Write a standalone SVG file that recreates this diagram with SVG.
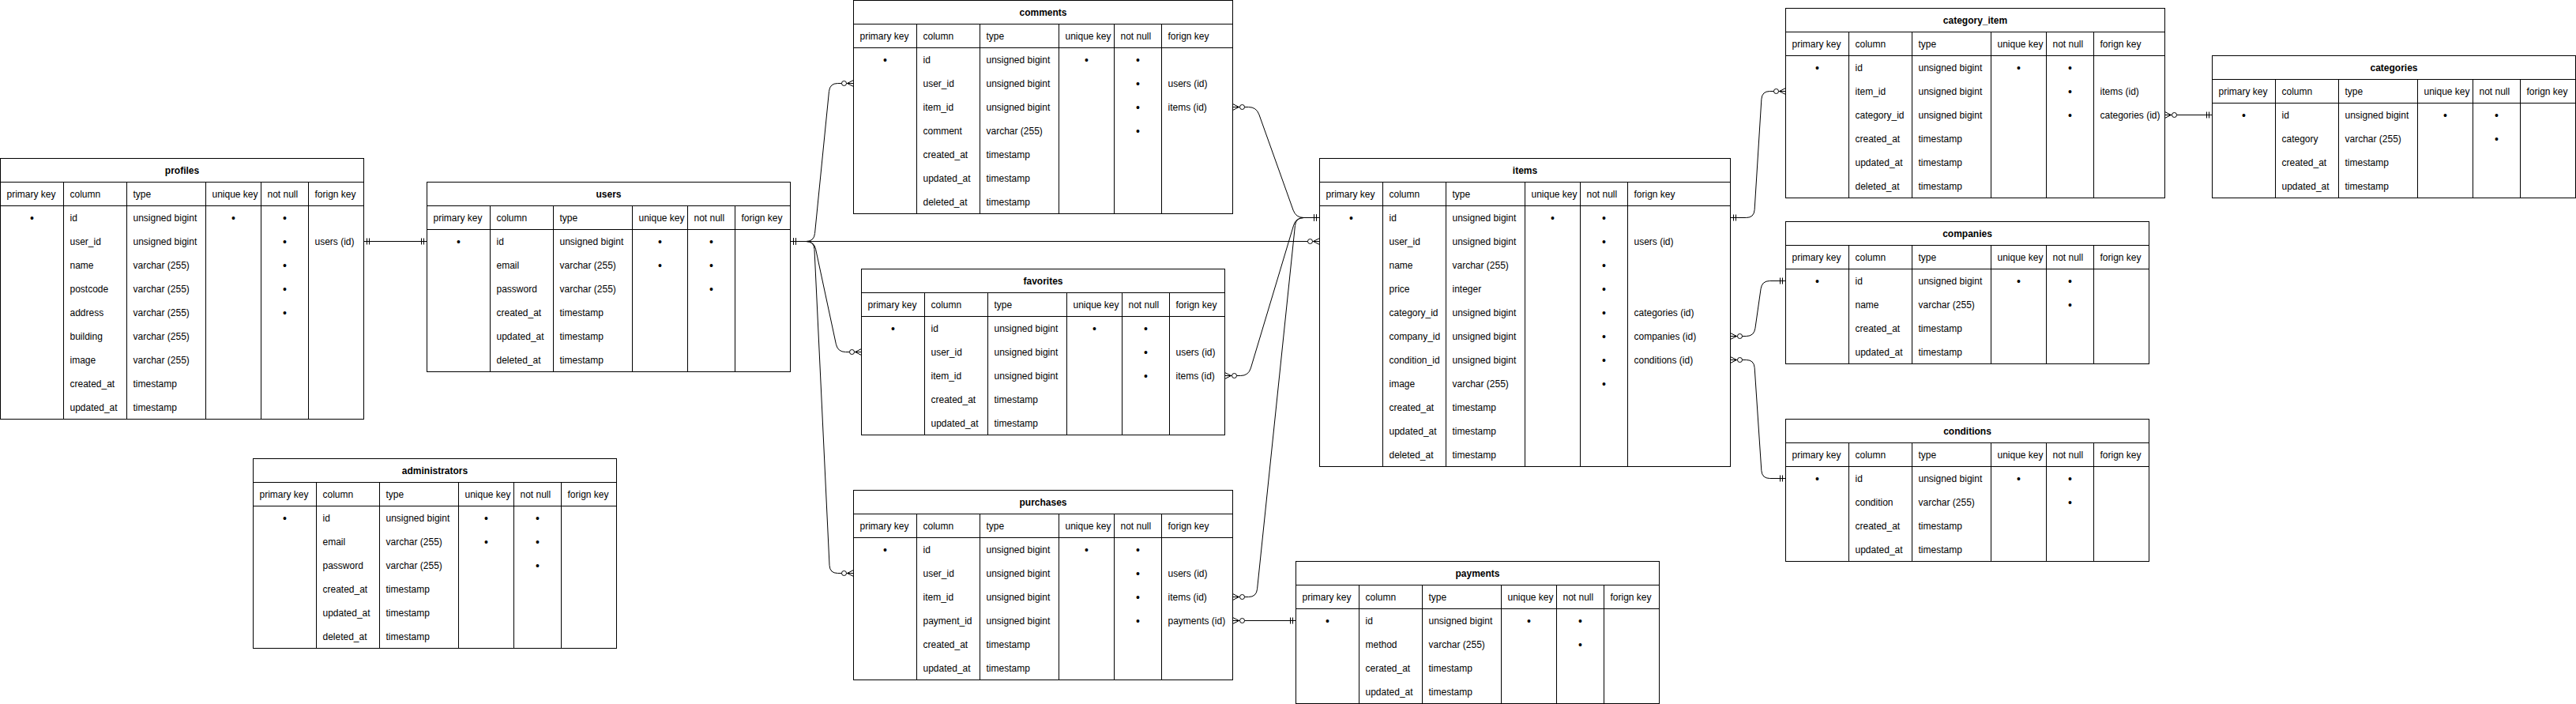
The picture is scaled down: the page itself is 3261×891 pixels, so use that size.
<svg xmlns="http://www.w3.org/2000/svg" width="3261" height="891" viewBox="0 0 3261 891">
<style>
text{font-family:"Liberation Sans",Arial,Helvetica,sans-serif;font-size:12px;fill:#000}
.h{font-weight:bold;text-anchor:middle}
.c{text-anchor:middle;font-size:14px}
.tb{fill:#fff;stroke:#000;stroke-width:1}
.ln{fill:none;stroke:#000;stroke-width:1}
.e{fill:none;stroke:#000;stroke-width:1}
.one{marker-start:url(#mand);marker-end:url(#many)}
.rev{marker-start:url(#many);marker-end:url(#mand)}
.both{marker-start:url(#mand);marker-end:url(#mand)}
</style>
<defs>
<marker id="mand" viewBox="-20 -10 24 20" refX="0" refY="0" markerWidth="24" markerHeight="20" markerUnits="userSpaceOnUse" orient="auto-start-reverse">
<path d="M-4,-4V4M-7,-4V4" fill="none" stroke="#000" stroke-width="1"/>
</marker>
<marker id="many" viewBox="-20 -10 24 20" refX="0" refY="0" markerWidth="24" markerHeight="20" markerUnits="userSpaceOnUse" orient="auto-start-reverse">
<path d="M0,-4L-8,0L0,4M0,0H-8" fill="none" stroke="#000" stroke-width="1"/>
<circle cx="-12" cy="0" r="3" fill="#fff" stroke="#000" stroke-width="1"/>
</marker>
</defs>
<rect x="0" y="0" width="3261" height="891" fill="#fff"/>
<g transform="translate(0.5,0.5)">

<g id="profiles" transform="translate(0,200)">
<rect class="tb" width="460" height="330"/>
<path class="ln" d="M0,30H460M0,60H460M80,30V330M160,30V330M260,30V330M330,30V330M390,30V330"/>
<text class="h" x="230" y="19">profiles</text>
<text x="8" y="49">primary key</text><text x="88" y="49">column</text><text x="168" y="49">type</text><text x="268" y="49">unique key</text><text x="338" y="49">not null</text><text x="398" y="49">forign key</text>
<text class="c" x="40" y="80">•</text><text x="88" y="79">id</text><text x="168" y="79">unsigned bigint</text><text class="c" x="295" y="80">•</text><text class="c" x="360" y="80">•</text>
<text x="88" y="109">user_id</text><text x="168" y="109">unsigned bigint</text><text class="c" x="360" y="110">•</text><text x="398" y="109">users (id)</text>
<text x="88" y="139">name</text><text x="168" y="139">varchar (255)</text><text class="c" x="360" y="140">•</text>
<text x="88" y="169">postcode</text><text x="168" y="169">varchar (255)</text><text class="c" x="360" y="170">•</text>
<text x="88" y="199">address</text><text x="168" y="199">varchar (255)</text><text class="c" x="360" y="200">•</text>
<text x="88" y="229">building</text><text x="168" y="229">varchar (255)</text>
<text x="88" y="259">image</text><text x="168" y="259">varchar (255)</text>
<text x="88" y="289">created_at</text><text x="168" y="289">timestamp</text>
<text x="88" y="319">updated_at</text><text x="168" y="319">timestamp</text>
</g>

<g id="users" transform="translate(540,230)">
<rect class="tb" width="460" height="240"/>
<path class="ln" d="M0,30H460M0,60H460M80,30V240M160,30V240M260,30V240M330,30V240M390,30V240"/>
<text class="h" x="230" y="19">users</text>
<text x="8" y="49">primary key</text><text x="88" y="49">column</text><text x="168" y="49">type</text><text x="268" y="49">unique key</text><text x="338" y="49">not null</text><text x="398" y="49">forign key</text>
<text class="c" x="40" y="80">•</text><text x="88" y="79">id</text><text x="168" y="79">unsigned bigint</text><text class="c" x="295" y="80">•</text><text class="c" x="360" y="80">•</text>
<text x="88" y="109">email</text><text x="168" y="109">varchar (255)</text><text class="c" x="295" y="110">•</text><text class="c" x="360" y="110">•</text>
<text x="88" y="139">password</text><text x="168" y="139">varchar (255)</text><text class="c" x="360" y="140">•</text>
<text x="88" y="169">created_at</text><text x="168" y="169">timestamp</text>
<text x="88" y="199">updated_at</text><text x="168" y="199">timestamp</text>
<text x="88" y="229">deleted_at</text><text x="168" y="229">timestamp</text>
</g>

<g id="administrators" transform="translate(320,580)">
<rect class="tb" width="460" height="240"/>
<path class="ln" d="M0,30H460M0,60H460M80,30V240M160,30V240M260,30V240M330,30V240M390,30V240"/>
<text class="h" x="230" y="19">administrators</text>
<text x="8" y="49">primary key</text><text x="88" y="49">column</text><text x="168" y="49">type</text><text x="268" y="49">unique key</text><text x="338" y="49">not null</text><text x="398" y="49">forign key</text>
<text class="c" x="40" y="80">•</text><text x="88" y="79">id</text><text x="168" y="79">unsigned bigint</text><text class="c" x="295" y="80">•</text><text class="c" x="360" y="80">•</text>
<text x="88" y="109">email</text><text x="168" y="109">varchar (255)</text><text class="c" x="295" y="110">•</text><text class="c" x="360" y="110">•</text>
<text x="88" y="139">password</text><text x="168" y="139">varchar (255)</text><text class="c" x="360" y="140">•</text>
<text x="88" y="169">created_at</text><text x="168" y="169">timestamp</text>
<text x="88" y="199">updated_at</text><text x="168" y="199">timestamp</text>
<text x="88" y="229">deleted_at</text><text x="168" y="229">timestamp</text>
</g>

<g id="comments" transform="translate(1080,0)">
<rect class="tb" width="480" height="270"/>
<path class="ln" d="M0,30H480M0,60H480M80,30V270M160,30V270M260,30V270M330,30V270M390,30V270"/>
<text class="h" x="240" y="19">comments</text>
<text x="8" y="49">primary key</text><text x="88" y="49">column</text><text x="168" y="49">type</text><text x="268" y="49">unique key</text><text x="338" y="49">not null</text><text x="398" y="49">forign key</text>
<text class="c" x="40" y="80">•</text><text x="88" y="79">id</text><text x="168" y="79">unsigned bigint</text><text class="c" x="295" y="80">•</text><text class="c" x="360" y="80">•</text>
<text x="88" y="109">user_id</text><text x="168" y="109">unsigned bigint</text><text class="c" x="360" y="110">•</text><text x="398" y="109">users (id)</text>
<text x="88" y="139">item_id</text><text x="168" y="139">unsigned bigint</text><text class="c" x="360" y="140">•</text><text x="398" y="139">items (id)</text>
<text x="88" y="169">comment</text><text x="168" y="169">varchar (255)</text><text class="c" x="360" y="170">•</text>
<text x="88" y="199">created_at</text><text x="168" y="199">timestamp</text>
<text x="88" y="229">updated_at</text><text x="168" y="229">timestamp</text>
<text x="88" y="259">deleted_at</text><text x="168" y="259">timestamp</text>
</g>

<g id="favorites" transform="translate(1090,340)">
<rect class="tb" width="460" height="210"/>
<path class="ln" d="M0,30H460M0,60H460M80,30V210M160,30V210M260,30V210M330,30V210M390,30V210"/>
<text class="h" x="230" y="19">favorites</text>
<text x="8" y="49">primary key</text><text x="88" y="49">column</text><text x="168" y="49">type</text><text x="268" y="49">unique key</text><text x="338" y="49">not null</text><text x="398" y="49">forign key</text>
<text class="c" x="40" y="80">•</text><text x="88" y="79">id</text><text x="168" y="79">unsigned bigint</text><text class="c" x="295" y="80">•</text><text class="c" x="360" y="80">•</text>
<text x="88" y="109">user_id</text><text x="168" y="109">unsigned bigint</text><text class="c" x="360" y="110">•</text><text x="398" y="109">users (id)</text>
<text x="88" y="139">item_id</text><text x="168" y="139">unsigned bigint</text><text class="c" x="360" y="140">•</text><text x="398" y="139">items (id)</text>
<text x="88" y="169">created_at</text><text x="168" y="169">timestamp</text>
<text x="88" y="199">updated_at</text><text x="168" y="199">timestamp</text>
</g>

<g id="purchases" transform="translate(1080,620)">
<rect class="tb" width="480" height="240"/>
<path class="ln" d="M0,30H480M0,60H480M80,30V240M160,30V240M260,30V240M330,30V240M390,30V240"/>
<text class="h" x="240" y="19">purchases</text>
<text x="8" y="49">primary key</text><text x="88" y="49">column</text><text x="168" y="49">type</text><text x="268" y="49">unique key</text><text x="338" y="49">not null</text><text x="398" y="49">forign key</text>
<text class="c" x="40" y="80">•</text><text x="88" y="79">id</text><text x="168" y="79">unsigned bigint</text><text class="c" x="295" y="80">•</text><text class="c" x="360" y="80">•</text>
<text x="88" y="109">user_id</text><text x="168" y="109">unsigned bigint</text><text class="c" x="360" y="110">•</text><text x="398" y="109">users (id)</text>
<text x="88" y="139">item_id</text><text x="168" y="139">unsigned bigint</text><text class="c" x="360" y="140">•</text><text x="398" y="139">items (id)</text>
<text x="88" y="169">payment_id</text><text x="168" y="169">unsigned bigint</text><text class="c" x="360" y="170">•</text><text x="398" y="169">payments (id)</text>
<text x="88" y="199">created_at</text><text x="168" y="199">timestamp</text>
<text x="88" y="229">updated_at</text><text x="168" y="229">timestamp</text>
</g>

<g id="payments" transform="translate(1640,710)">
<rect class="tb" width="460" height="180"/>
<path class="ln" d="M0,30H460M0,60H460M80,30V180M160,30V180M260,30V180M330,30V180M390,30V180"/>
<text class="h" x="230" y="19">payments</text>
<text x="8" y="49">primary key</text><text x="88" y="49">column</text><text x="168" y="49">type</text><text x="268" y="49">unique key</text><text x="338" y="49">not null</text><text x="398" y="49">forign key</text>
<text class="c" x="40" y="80">•</text><text x="88" y="79">id</text><text x="168" y="79">unsigned bigint</text><text class="c" x="295" y="80">•</text><text class="c" x="360" y="80">•</text>
<text x="88" y="109">method</text><text x="168" y="109">varchar (255)</text><text class="c" x="360" y="110">•</text>
<text x="88" y="139">cerated_at</text><text x="168" y="139">timestamp</text>
<text x="88" y="169">updated_at</text><text x="168" y="169">timestamp</text>
</g>

<g id="items" transform="translate(1670,200)">
<rect class="tb" width="520" height="390"/>
<path class="ln" d="M0,30H520M0,60H520M80,30V390M160,30V390M260,30V390M330,30V390M390,30V390"/>
<text class="h" x="260" y="19">items</text>
<text x="8" y="49">primary key</text><text x="88" y="49">column</text><text x="168" y="49">type</text><text x="268" y="49">unique key</text><text x="338" y="49">not null</text><text x="398" y="49">forign key</text>
<text class="c" x="40" y="80">•</text><text x="88" y="79">id</text><text x="168" y="79">unsigned bigint</text><text class="c" x="295" y="80">•</text><text class="c" x="360" y="80">•</text>
<text x="88" y="109">user_id</text><text x="168" y="109">unsigned bigint</text><text class="c" x="360" y="110">•</text><text x="398" y="109">users (id)</text>
<text x="88" y="139">name</text><text x="168" y="139">varchar (255)</text><text class="c" x="360" y="140">•</text>
<text x="88" y="169">price</text><text x="168" y="169">integer</text><text class="c" x="360" y="170">•</text>
<text x="88" y="199">category_id</text><text x="168" y="199">unsigned bigint</text><text class="c" x="360" y="200">•</text><text x="398" y="199">categories (id)</text>
<text x="88" y="229">company_id</text><text x="168" y="229">unsigned bigint</text><text class="c" x="360" y="230">•</text><text x="398" y="229">companies (id)</text>
<text x="88" y="259">condition_id</text><text x="168" y="259">unsigned bigint</text><text class="c" x="360" y="260">•</text><text x="398" y="259">conditions (id)</text>
<text x="88" y="289">image</text><text x="168" y="289">varchar (255)</text><text class="c" x="360" y="290">•</text>
<text x="88" y="319">created_at</text><text x="168" y="319">timestamp</text>
<text x="88" y="349">updated_at</text><text x="168" y="349">timestamp</text>
<text x="88" y="379">deleted_at</text><text x="168" y="379">timestamp</text>
</g>

<g id="category_item" transform="translate(2260,10)">
<rect class="tb" width="480" height="240"/>
<path class="ln" d="M0,30H480M0,60H480M80,30V240M160,30V240M260,30V240M330,30V240M390,30V240"/>
<text class="h" x="240" y="19">category_item</text>
<text x="8" y="49">primary key</text><text x="88" y="49">column</text><text x="168" y="49">type</text><text x="268" y="49">unique key</text><text x="338" y="49">not null</text><text x="398" y="49">forign key</text>
<text class="c" x="40" y="80">•</text><text x="88" y="79">id</text><text x="168" y="79">unsigned bigint</text><text class="c" x="295" y="80">•</text><text class="c" x="360" y="80">•</text>
<text x="88" y="109">item_id</text><text x="168" y="109">unsigned bigint</text><text class="c" x="360" y="110">•</text><text x="398" y="109">items (id)</text>
<text x="88" y="139">category_id</text><text x="168" y="139">unsigned bigint</text><text class="c" x="360" y="140">•</text><text x="398" y="139">categories (id)</text>
<text x="88" y="169">created_at</text><text x="168" y="169">timestamp</text>
<text x="88" y="199">updated_at</text><text x="168" y="199">timestamp</text>
<text x="88" y="229">deleted_at</text><text x="168" y="229">timestamp</text>
</g>

<g id="categories" transform="translate(2800,70)">
<rect class="tb" width="460" height="180"/>
<path class="ln" d="M0,30H460M0,60H460M80,30V180M160,30V180M260,30V180M330,30V180M390,30V180"/>
<text class="h" x="230" y="19">categories</text>
<text x="8" y="49">primary key</text><text x="88" y="49">column</text><text x="168" y="49">type</text><text x="268" y="49">unique key</text><text x="338" y="49">not null</text><text x="398" y="49">forign key</text>
<text class="c" x="40" y="80">•</text><text x="88" y="79">id</text><text x="168" y="79">unsigned bigint</text><text class="c" x="295" y="80">•</text><text class="c" x="360" y="80">•</text>
<text x="88" y="109">category</text><text x="168" y="109">varchar (255)</text><text class="c" x="360" y="110">•</text>
<text x="88" y="139">created_at</text><text x="168" y="139">timestamp</text>
<text x="88" y="169">updated_at</text><text x="168" y="169">timestamp</text>
</g>

<g id="companies" transform="translate(2260,280)">
<rect class="tb" width="460" height="180"/>
<path class="ln" d="M0,30H460M0,60H460M80,30V180M160,30V180M260,30V180M330,30V180M390,30V180"/>
<text class="h" x="230" y="19">companies</text>
<text x="8" y="49">primary key</text><text x="88" y="49">column</text><text x="168" y="49">type</text><text x="268" y="49">unique key</text><text x="338" y="49">not null</text><text x="398" y="49">forign key</text>
<text class="c" x="40" y="80">•</text><text x="88" y="79">id</text><text x="168" y="79">unsigned bigint</text><text class="c" x="295" y="80">•</text><text class="c" x="360" y="80">•</text>
<text x="88" y="109">name</text><text x="168" y="109">varchar (255)</text><text class="c" x="360" y="110">•</text>
<text x="88" y="139">created_at</text><text x="168" y="139">timestamp</text>
<text x="88" y="169">updated_at</text><text x="168" y="169">timestamp</text>
</g>

<g id="conditions" transform="translate(2260,530)">
<rect class="tb" width="460" height="180"/>
<path class="ln" d="M0,30H460M0,60H460M80,30V180M160,30V180M260,30V180M330,30V180M390,30V180"/>
<text class="h" x="230" y="19">conditions</text>
<text x="8" y="49">primary key</text><text x="88" y="49">column</text><text x="168" y="49">type</text><text x="268" y="49">unique key</text><text x="338" y="49">not null</text><text x="398" y="49">forign key</text>
<text class="c" x="40" y="80">•</text><text x="88" y="79">id</text><text x="168" y="79">unsigned bigint</text><text class="c" x="295" y="80">•</text><text class="c" x="360" y="80">•</text>
<text x="88" y="109">condition</text><text x="168" y="109">varchar (255)</text><text class="c" x="360" y="110">•</text>
<text x="88" y="139">created_at</text><text x="168" y="139">timestamp</text>
<text x="88" y="169">updated_at</text><text x="168" y="169">timestamp</text>
</g>

<g id="connectors">
<path class="e both" d="M460,305L540,305"/>
<path class="e one" d="M1000,305L1020,305Q1030,305 1031,295.05L1049,114.95Q1050,105 1060,105L1080,105"/>
<path class="e one" d="M1000,305L1020,305Q1030,305 1032.1,314.78L1057.9,435.22Q1060,445 1070,445L1090,445"/>
<path class="e one" d="M1000,305L1670,305"/>
<path class="e one" d="M1000,305L1020,305Q1030,305 1030.48,314.99L1049.52,715.01Q1050,725 1060,725L1080,725"/>
<path class="e rev" d="M1560,135L1580,135Q1590,135 1593.36,144.42L1636.64,265.58Q1640,275 1650,275L1670,275"/>
<path class="e rev" d="M1550,475L1570,475Q1580,475 1582.87,465.42L1637.13,284.58Q1640,275 1650,275L1670,275"/>
<path class="e rev" d="M1560,755L1580,755Q1590,755 1591.04,745.05L1638.96,284.95Q1640,275 1650,275L1670,275"/>
<path class="e rev" d="M1560,785L1640,785"/>
<path class="e one" d="M2190,275L2210,275Q2220,275 2220.62,265.02L2229.38,124.98Q2230,115 2240,115L2260,115"/>
<path class="e rev" d="M2190,425L2210,425Q2220,425 2221.41,415.1L2228.59,364.9Q2230,355 2240,355L2260,355"/>
<path class="e rev" d="M2190,455L2210,455Q2220,455 2220.67,464.98L2229.33,595.02Q2230,605 2240,605L2260,605"/>
<path class="e rev" d="M2740,145L2800,145"/>
</g>
</g>
</svg>
